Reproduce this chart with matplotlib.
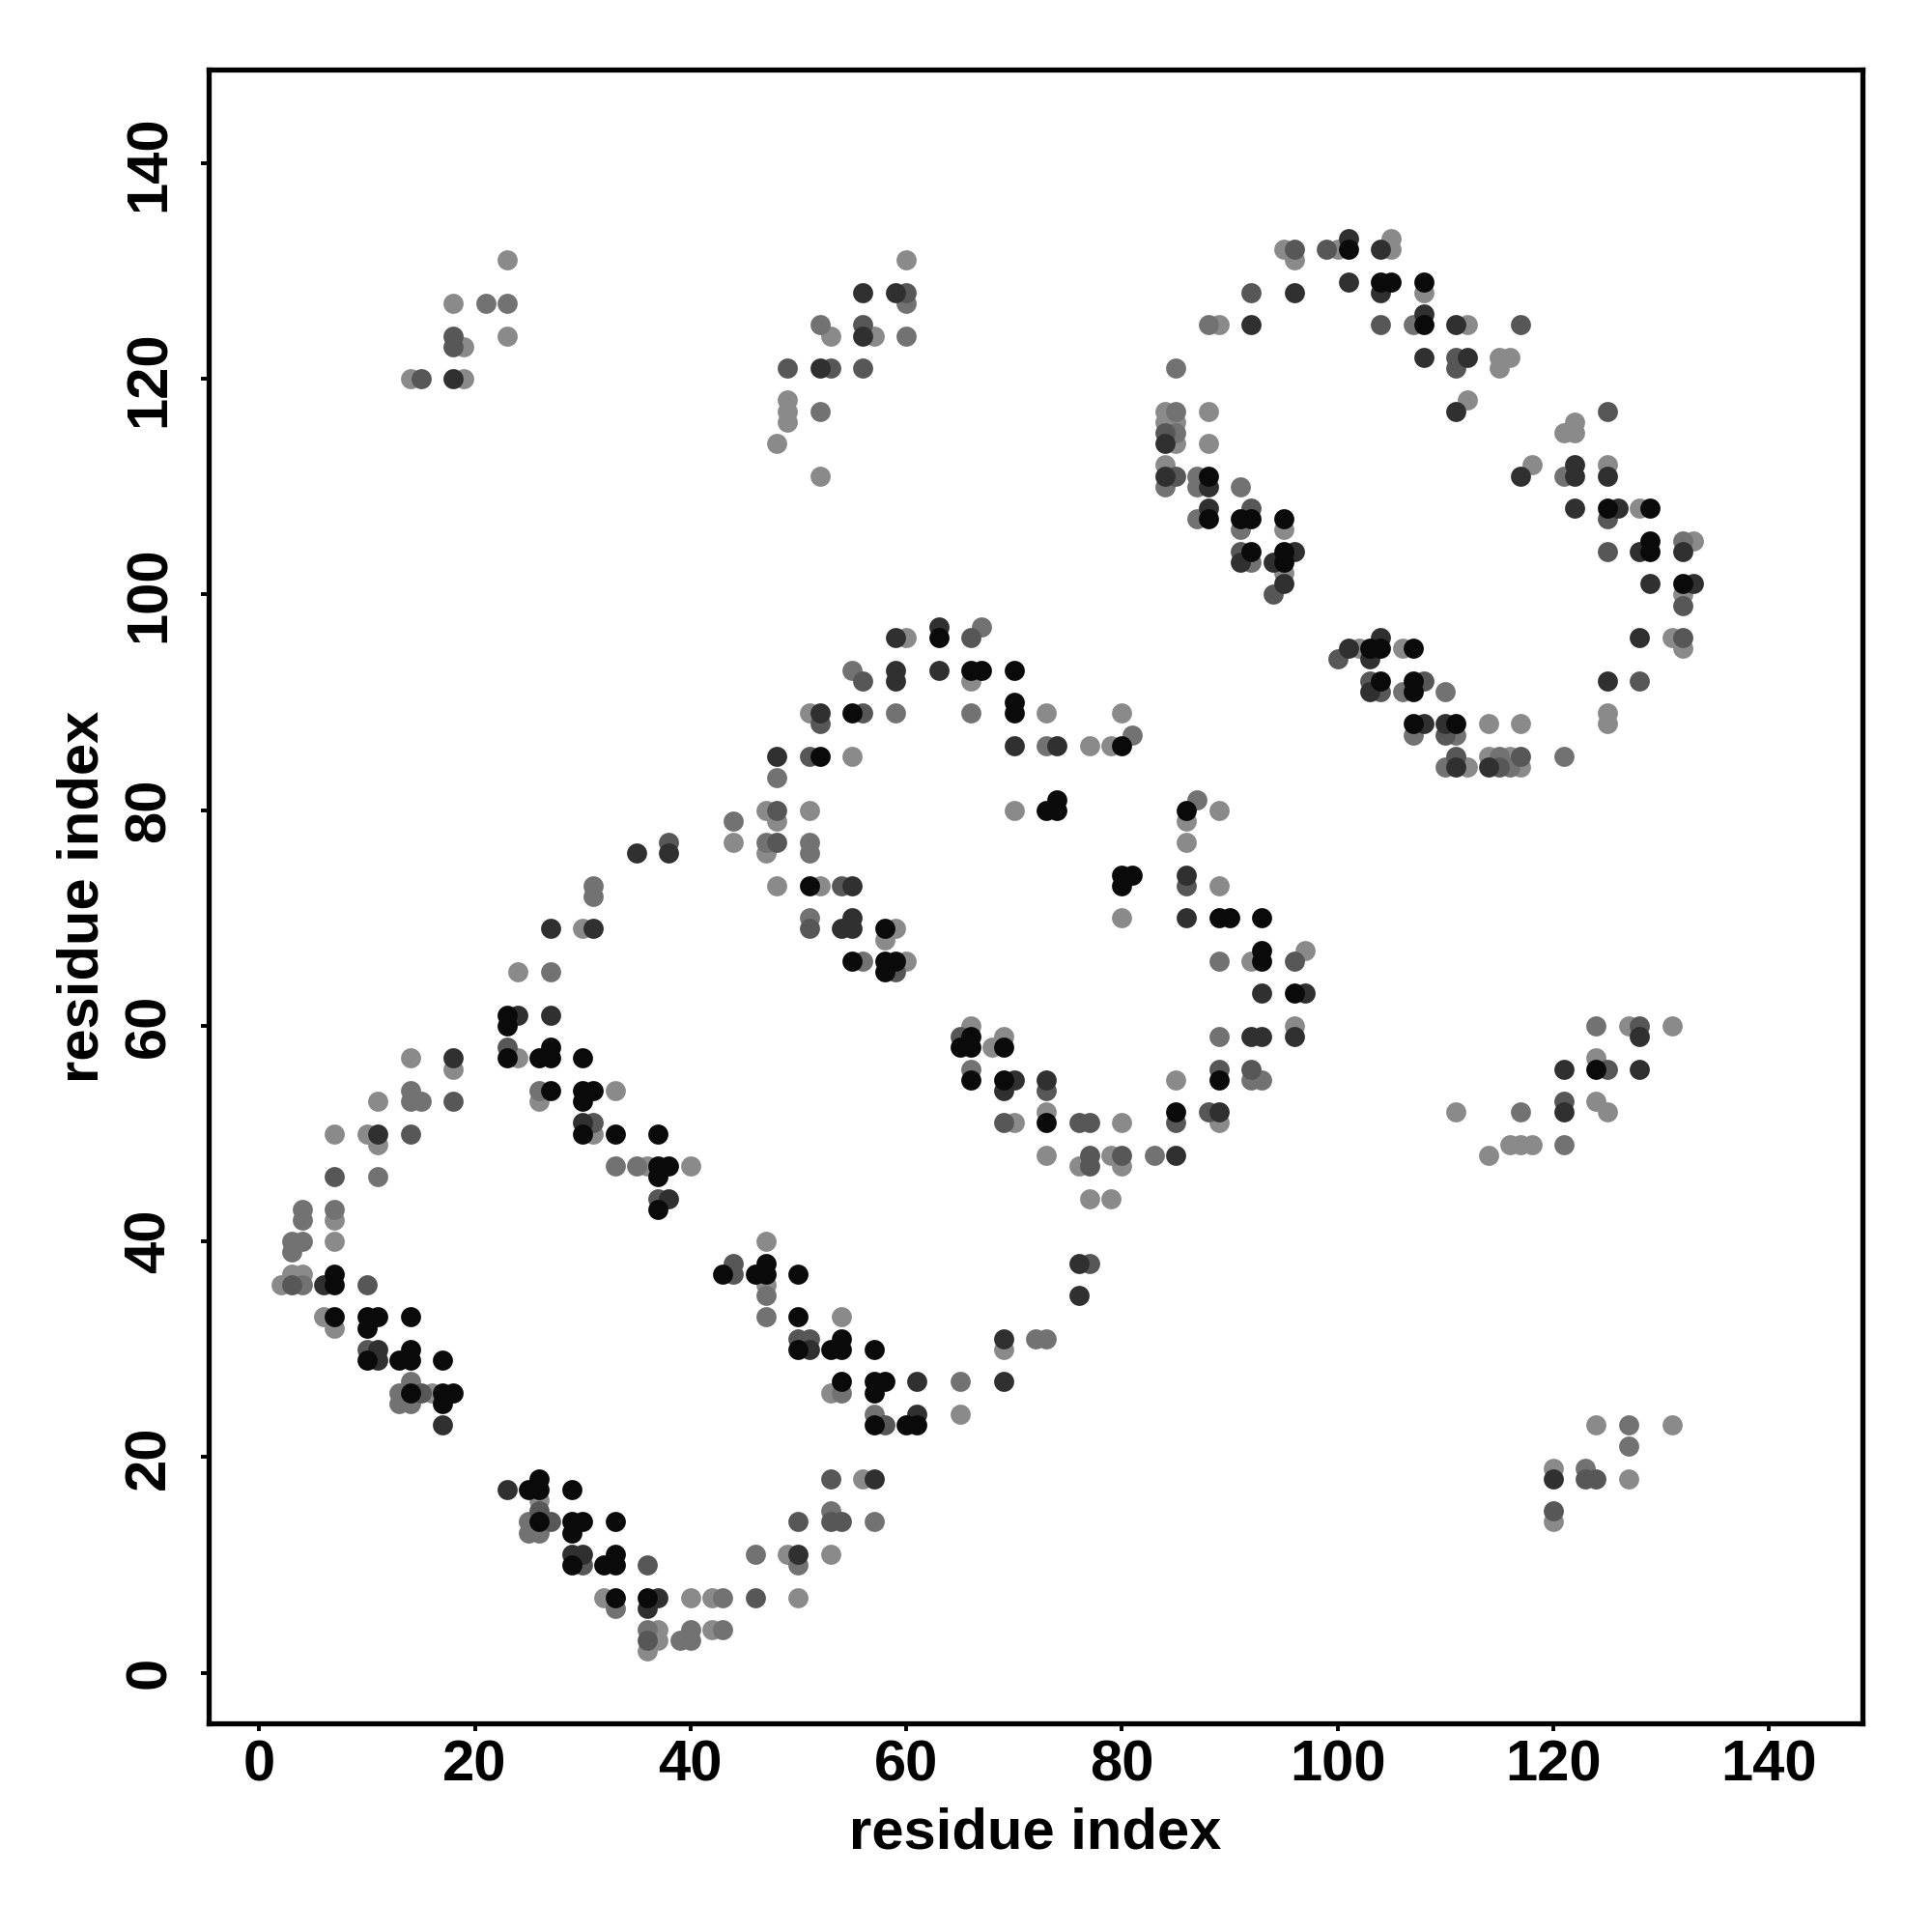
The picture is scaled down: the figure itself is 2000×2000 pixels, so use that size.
import matplotlib
matplotlib.use("Agg")
import matplotlib.pyplot as plt

plt.rcParams['font.family'] = ['Liberation Sans', 'DejaVu Sans']
plt.rcParams['font.weight'] = 'bold'

# contacts (residue i, residue j), grouped by shade (darkest = strongest)
black_pts = [(7,37),(7,36),(7,33),(10,33),(11,33),(10,32),(14,33),(10,29),(13,29),(14,30),(14,29),(17,29),
             (14,26),(17,26),(18,26),(17,25),(25,17),(26,18),(26,17),(29,17),(26,14),(29,14),(30,14),(29,13),
             (33,14),(29,10),(32,10),(33,11),(33,10),(33,7),(36,7),(37,47),(38,47),(37,46),(37,43),(43,37),
             (46,37),(47,38),(47,37),(50,37),(50,33),(50,30),(53,30),(54,31),(54,30),(57,30),(54,27),(57,27),
             (58,27),(57,26),(57,23),(60,23),(61,23),
             (23,61),(23,60),(23,57),(26,57),(27,58),(27,57),(30,57),(27,54),(30,54),(31,54),(30,53),(30,50),
             (33,50),(37,50),
             (66,93),(67,93),(70,93),(55,89),(70,90),(70,89),(80,86),(52,85),(74,81),(73,80),(74,80),(86,80),
             (80,74),(81,74),(80,73),(51,73),(89,70),(90,70),(93,70),(58,69),(55,66),(58,66),(59,66),(58,65),
             (93,67),(93,66),(96,63),(66,59),(65,58),(66,58),(69,58),(66,55),(69,55),(89,55),(85,52),(73,51),
             (88,111),(88,107),(63,96),
             (101,132),(104,129),(105,129),(108,129),(108,125),(91,107),(92,107),(95,107),(92,104),(95,104),
             (95,103),(125,108),(129,108),(129,105),(129,104),(132,101),(103,95),(104,95),(107,95),(104,92),
             (107,92),(107,91),(107,88),(111,88),(124,56)]

dark_pts = [(6,36),(11,30),(11,29),(17,23),(23,17),(29,11),(30,11),(37,7),(36,6),(38,44),
            (51,30),(61,27),(69,27),(61,24),(69,31),(76,38),(76,35),(57,18),(50,11),
            (35,76),(38,76),(27,69),(31,69),(24,61),(27,61),(18,57),(11,50),(30,51),
            (59,93),(59,92),(63,93),(52,89),(70,86),(74,86),(48,85),(86,74),(55,73),(86,70),(54,69),(55,70),
            (55,69),(93,63),(97,63),(92,59),(93,59),(96,59),(70,55),(69,54),(73,55),(89,52),(85,48),
            (56,128),(59,128),(56,124),(52,121),(84,114),(84,111),(88,110),(88,108),(59,96),(63,97),
            (101,133),(104,132),(96,128),(101,129),(104,128),(92,125),(108,126),(111,125),(108,122),(112,122),
            (111,117),(117,111),(122,112),(122,111),(125,111),(91,103),(94,103),(96,104),(95,101),(122,108),
            (126,108),(128,104),(132,104),(129,101),(133,101),(128,96),(125,92),(101,95),(104,96),(103,94),
            (103,91),(108,88),(110,88),(111,84),(114,84),(128,59),(121,56),(128,56),(121,52),(120,18),(18,120)]

mid_pts = [(7,46),(3,36),(10,36),(10,30),(15,26),(27,14),(26,15),(30,10),(36,10),(36,3),(37,44),(44,38),(44,37),
           (50,31),(51,31),(58,23),(77,38),(53,18),(50,14),(53,14),(54,14),(46,7),
           (38,77),(23,58),(18,53),(14,50),(31,51),
           (56,92),(52,88),(56,89),(51,85),(48,80),(48,77),(86,73),(54,73),(51,69),(59,65),(96,66),(65,59),
           (73,54),(89,56),(92,56),(69,51),(76,51),(77,51),(85,51),(88,52),(77,48),(77,47),(80,48),
           (60,128),(56,125),(49,121),(53,121),(56,121),(84,115),(85,111),(66,96),
           (96,132),(99,132),(92,128),(104,125),(117,125),(111,122),(111,121),(125,117),(92,108),(91,104),
           (94,100),(125,107),(125,104),(132,99),(132,96),(100,94),(103,92),(104,91),(108,92),
           (110,87),(111,85),(117,85),(115,84),(128,60),(125,56),(121,53),(128,92),
           (123,18),(124,18),(120,15),(18,124),(18,123),(15,120)]

grey_pts = [(11,46),(4,43),(4,42),(7,43),(3,40),(4,40),(3,39),(4,36),(14,27),(13,26),(13,25),(14,25),(25,14),
            (25,13),(26,13),(33,6),(43,7),(36,4),(39,3),(40,4),(40,3),(43,4),(33,47),(35,47),
            (47,35),(47,33),(54,26),(65,27),(57,24),(72,31),(73,31),(53,15),(57,14),(46,11),(50,10),
            (44,79),(31,73),(31,72),(27,65),(14,54),(14,53),(15,53),(26,54),
            (55,93),(59,89),(66,89),(81,87),(73,86),(48,83),(87,81),(47,77),(51,77),(51,76),(51,70),(56,66),
            (89,66),(89,59),(66,56),(92,55),(93,55),(83,48),
            (52,125),(60,127),(60,124),(52,117),(88,125),(85,121),(85,117),(85,115),(84,110),(87,111),(87,110),
            (87,107),(67,97),
            (107,125),(121,111),(91,110),(91,106),(92,103),(132,105),(106,91),(110,91),
            (107,87),(111,87),(110,84),(115,85),(116,84),(121,85),(124,60),(117,52),(121,49),
            (127,23),(127,21),(123,19),(21,127),(23,127)]

light_pts = [(7,42),(7,40),(3,37),(4,37),(2,36),(6,33),(7,32),(16,26),(26,16),(32,7),(40,7),(42,7),(37,4),(37,3),
             (36,2),(42,4),(36,47),(40,47),
             (77,44),(79,44),(47,40),(47,36),(54,33),(53,26),(65,24),(69,30),(56,18),(49,11),(53,11),(50,7),
             (44,77),(30,69),(24,65),(24,57),(26,53),(33,54),(14,57),(18,56),(11,53),(7,50),(10,50),(11,49),(31,50),
             (66,92),(51,89),(73,89),(80,89),(77,86),(79,86),(55,85),(70,80),(47,80),(48,79),(51,80),(86,79),
             (89,80),(86,77),(47,76),(89,73),(48,73),(52,73),(80,70),(59,69),(58,68),(60,66),(92,66),(97,67),
             (66,60),(68,58),(69,59),(96,60),(85,55),(70,51),(73,52),(80,51),(89,51),(73,48),(76,47),(79,48),(80,47),
             (60,131),(53,124),(57,124),(49,118),(49,117),(49,116),(48,114),(52,111),(89,125),(84,117),(84,116),
             (85,116),(85,114),(88,117),(88,114),(84,112),(60,96),
             (95,132),(96,131),(100,132),(105,133),(105,132),(108,128),(112,125),(115,122),(116,122),(115,121),
             (112,118),(122,116),(121,115),(122,115),(118,112),(125,112),(95,106),(95,102),(128,108),(133,105),
             (132,100),(131,96),(132,95),(102,95),(106,95),
             (114,88),(117,88),(125,89),(125,88),(112,84),(114,85),(116,85),(117,84),(127,60),(131,60),(124,57),
             (111,52),(124,53),(125,52),(114,48),(116,49),(117,49),(118,49),
             (124,23),(131,23),(120,19),(127,18),(120,14),
             (23,131),(18,127),(19,123),(23,124),(14,120),(19,120)]

groups = [(light_pts, '#8a8a8a'), (grey_pts, '#727272'), (mid_pts, '#575757'),
          (dark_pts, '#303030'), (black_pts, '#0a0a0a')]

fig = plt.figure(figsize=(10, 10), dpi=200)
ax = fig.add_axes([0.108, 0.108, 0.856, 0.856])

for pts, col in groups:
    xs = [p[0] for p in pts]
    ys = [p[1] for p in pts]
    ax.scatter(xs, ys, s=56, c=col, linewidths=0)

ax.set_xlim(-4.68, 148.68)
ax.set_ylim(-4.68, 148.68)
ticks = list(range(0, 141, 20))
ax.set_xticks(ticks)
ax.set_yticks(ticks)
for sp in ax.spines.values():
    sp.set_linewidth(1.9)
ax.tick_params(axis='both', length=3, width=1.4, labelsize=21.5)
ax.tick_params(axis='x', pad=3)
ax.tick_params(axis='y', pad=9)
for lab in ax.get_yticklabels():
    lab.set_rotation(90)
    lab.set_va('center')
for lab in ax.get_xticklabels() + ax.get_yticklabels():
    lab.set_fontweight('bold')

fig.text(0.536, 0.0435, 'residue index', ha='center', va='baseline', fontsize=21.5, fontweight='bold')
fig.text(0.051, 0.536, 'residue index', ha='center', va='baseline', rotation=90,
         rotation_mode='anchor', fontsize=21.5, fontweight='bold')

fig.savefig('out.png', dpi=200)
